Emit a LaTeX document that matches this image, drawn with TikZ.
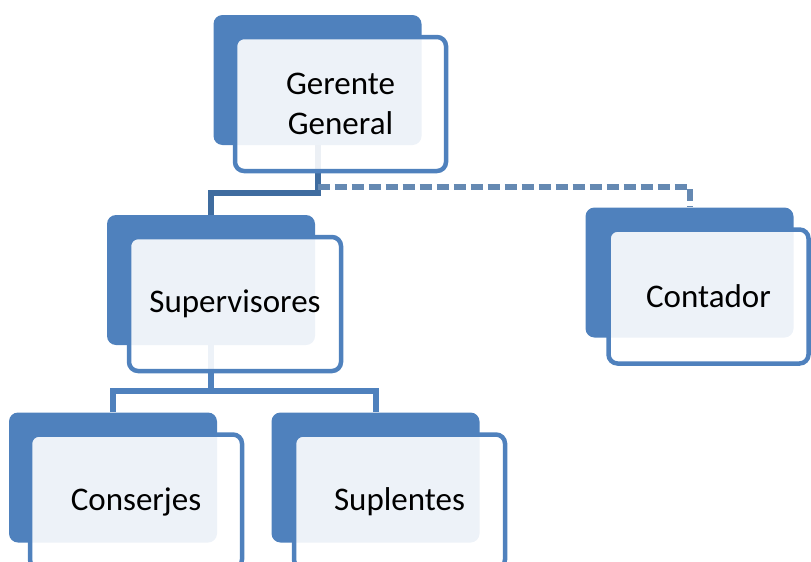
\documentclass[tikz,border=0pt]{standalone}
\usepackage{fontspec}
\setmainfont{Carlito}
\usetikzlibrary{positioning}
\definecolor{bk}{HTML}{4F81BD}
\definecolor{lnd}{HTML}{3F6C9F}
\begin{document}
\begin{tikzpicture}[x=1pt,y=-1pt,
	back/.style={fill=bk,rounded corners=9pt,minimum width=208pt,minimum height=130pt,inner sep=0pt},
	front/.style={draw=bk,line width=4.5pt,fill=white,fill opacity=0.9,text opacity=1,rounded corners=9pt,
		minimum height=134pt,inner sep=0pt,align=center,font=\fontsize{33}{40}\selectfont},
	conn/.style={line width=6pt,draw=#1},conn/.default=bk]
	\useasboundingbox (0,0) rectangle (811,562);
	% back plates
	\foreach \n/\x/\y in {ger/317.5/80,sup/211/280,con/689.5/272.5,cnj/113/477.5,spl/375.5/477.5}
		\node[back] (\n-b) at (\x,\y) {};
	% connectors
	\draw[conn=lnd] (ger-b.south) -- ++(0,48) -| (sup-b.north);
	\draw[conn=lnd!80!white,dash pattern=on 12pt off 5pt] (ger-b.south) ++(0,42) coordinate (g) -| (con-b.north);
	\draw[conn] (sup-b.south) -- ++(0,46) coordinate (s) -| (cnj-b.north);
	\draw[conn] (s) -| (spl-b.north);
	% front boxes
	\foreach \n/\w/\dx/\t in {ger/211/23/{Gerente\\General},sup/212/24/Supervisores,con/200/19/Contador,cnj/212/23/Conserjes,spl/211/24/Suplentes}
		\node[front,minimum width=\w pt] (\n-f) at ([shift={(\dx,24)}]\n-b.center) {\t};
\end{tikzpicture}
\end{document}
